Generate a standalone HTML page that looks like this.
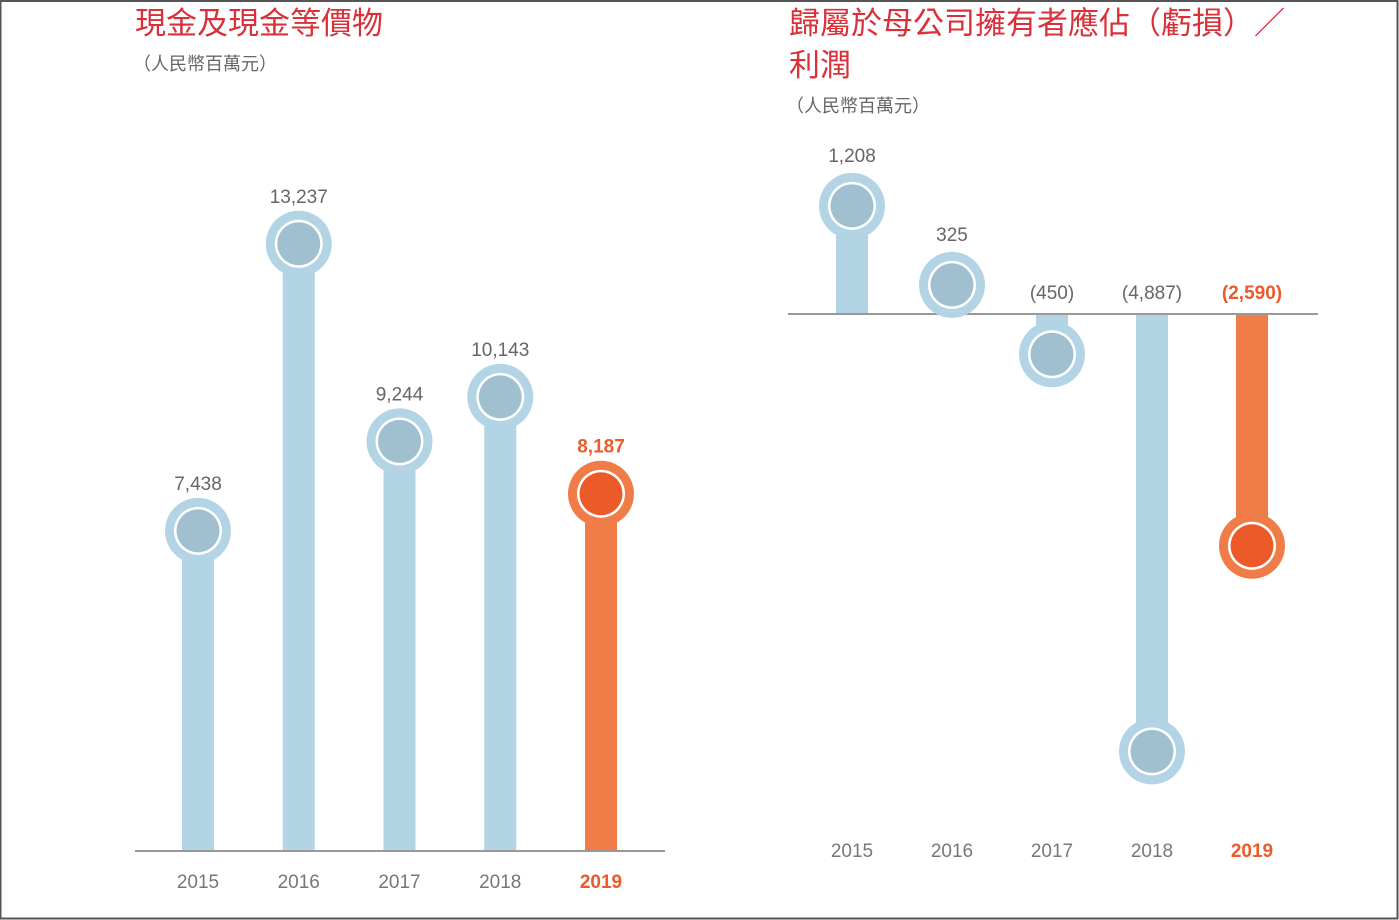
<!DOCTYPE html>
<html><head><meta charset="utf-8">
<style>
html,body{margin:0;padding:0;background:#fff;}
#wrap{position:relative;width:1399px;height:920px;overflow:hidden;}
svg{position:absolute;left:0;top:0;}
text{font-family:"Liberation Sans","Noto Sans CJK TC",sans-serif;}
</style></head>
<body>
<div id="wrap">
<svg id="svg" width="1399" height="920" viewBox="0 0 1399 920">
  <rect x="0.5" y="1" width="1397" height="917.5" fill="none" stroke="#555" stroke-width="2"/>
  <text x="135" y="34" font-size="31" fill="#d9303a">現金及現金等價物</text>
  <text x="133" y="70" font-size="18" fill="#666">（人民幣百萬元）</text>
  <text x="789" y="34" font-size="31" fill="#d9303a">歸屬於母公司擁有者應佔（虧損）／</text>
  <text x="789" y="76" font-size="31" fill="#d9303a">利潤</text>
  <text x="786" y="112" font-size="18" fill="#666">（人民幣百萬元）</text>
  <g id="left"></g>
  <g id="right"></g>
</svg>
</div>
<script>
const leftYears = ["2015","2016","2017","2018","2019"];
const leftValues = [7438, 13237, 9244, 10143, 8187];
const leftLabels = ["7,438","13,237","9,244","10,143","8,187"];
const rightYears = ["2015","2016","2017","2018","2019"];
const rightValues = [1208, 325, -450, -4887, -2590];
const rightLabels = ["1,208","325","(450)","(4,887)","(2,590)"];
const highlight = [false,false,false,false,true];

const NS = "http://www.w3.org/2000/svg";
function mk(tag, attrs, parent){
  const e = document.createElementNS(NS, tag);
  for (const k in attrs) e.setAttribute(k, attrs[k]);
  parent.appendChild(e);
  return e;
}
const BLUE="#b3d4e4", BLUE_IN="#a0bfcf", ORANGE="#f07c48", ORANGE_IN="#ec5a2a";

function drawMarker(g, cx, cy, hl){
  const c1 = mk("circle",{cx:cx,cy:cy,r:33,fill:hl?ORANGE:BLUE},g);
  
  
  const c2 = mk("circle",{cx:cx,cy:cy,r:24,fill:"#fff"},g);
  
  
  const c3 = mk("circle",{cx:cx,cy:cy,r:21.5,fill:hl?ORANGE_IN:BLUE_IN},g);
  
  
}

// Left chart
(function(){
  const g = document.getElementById("left");
  const base = 851;
  const xs = i => 198 + i*100.75;
  const ys = v => 899 - 0.0495*v;
  leftValues.forEach((v,i)=>{
    const x = xs(i), y = ys(v), hl = highlight[i];
    const bar = mk("rect",{x:x-16,y:y,width:32,height:base-y,fill:hl?ORANGE:BLUE},g);
    
    
    drawMarker(g,x,y,hl);
    const t = mk("text",{x:x,y:y-41,"text-anchor":"middle","font-size":19,fill:hl?ORANGE_IN:"#666","font-weight":hl?"bold":"normal"},g);
    t.textContent = leftLabels[i];
    
    
    const yl = mk("text",{x:x,y:888,"text-anchor":"middle","font-size":19,fill:hl?ORANGE_IN:"#777","font-weight":hl?"bold":"normal"},g);
    yl.textContent = leftYears[i];
    
    
  });
  const ax = mk("line",{x1:135,y1:base,x2:665,y2:base,stroke:"#999","stroke-width":2},g);
  
  
})();

// Right chart
(function(){
  const g = document.getElementById("right");
  const base = 314;
  const xs = i => 852 + i*100;
  const ys = v => base - 0.0895*v;
  rightValues.forEach((v,i)=>{
    const x = xs(i), y = ys(v), hl = highlight[i];
    const top = Math.min(y,base), h = Math.abs(base-y);
    const bar = mk("rect",{x:x-16,y:top,width:32,height:h,fill:hl?ORANGE:BLUE},g);
    
    
  });
  const ax = mk("line",{x1:788,y1:base,x2:1318,y2:base,stroke:"#999","stroke-width":2},g);
  
  
  rightValues.forEach((v,i)=>{
    const x = xs(i), y = ys(v), hl = highlight[i];
    drawMarker(g,x,y,hl);
    const ly = v >= 0 ? y-44 : base-15;
    const t = mk("text",{x:x,y:ly,"text-anchor":"middle","font-size":19,fill:hl?ORANGE_IN:"#666","font-weight":hl?"bold":"normal"},g);
    t.textContent = rightLabels[i];
    
    
    const yl = mk("text",{x:x,y:857,"text-anchor":"middle","font-size":19,fill:hl?ORANGE_IN:"#777","font-weight":hl?"bold":"normal"},g);
    yl.textContent = rightYears[i];
    
    
  });
})();
</script>
</body></html>
